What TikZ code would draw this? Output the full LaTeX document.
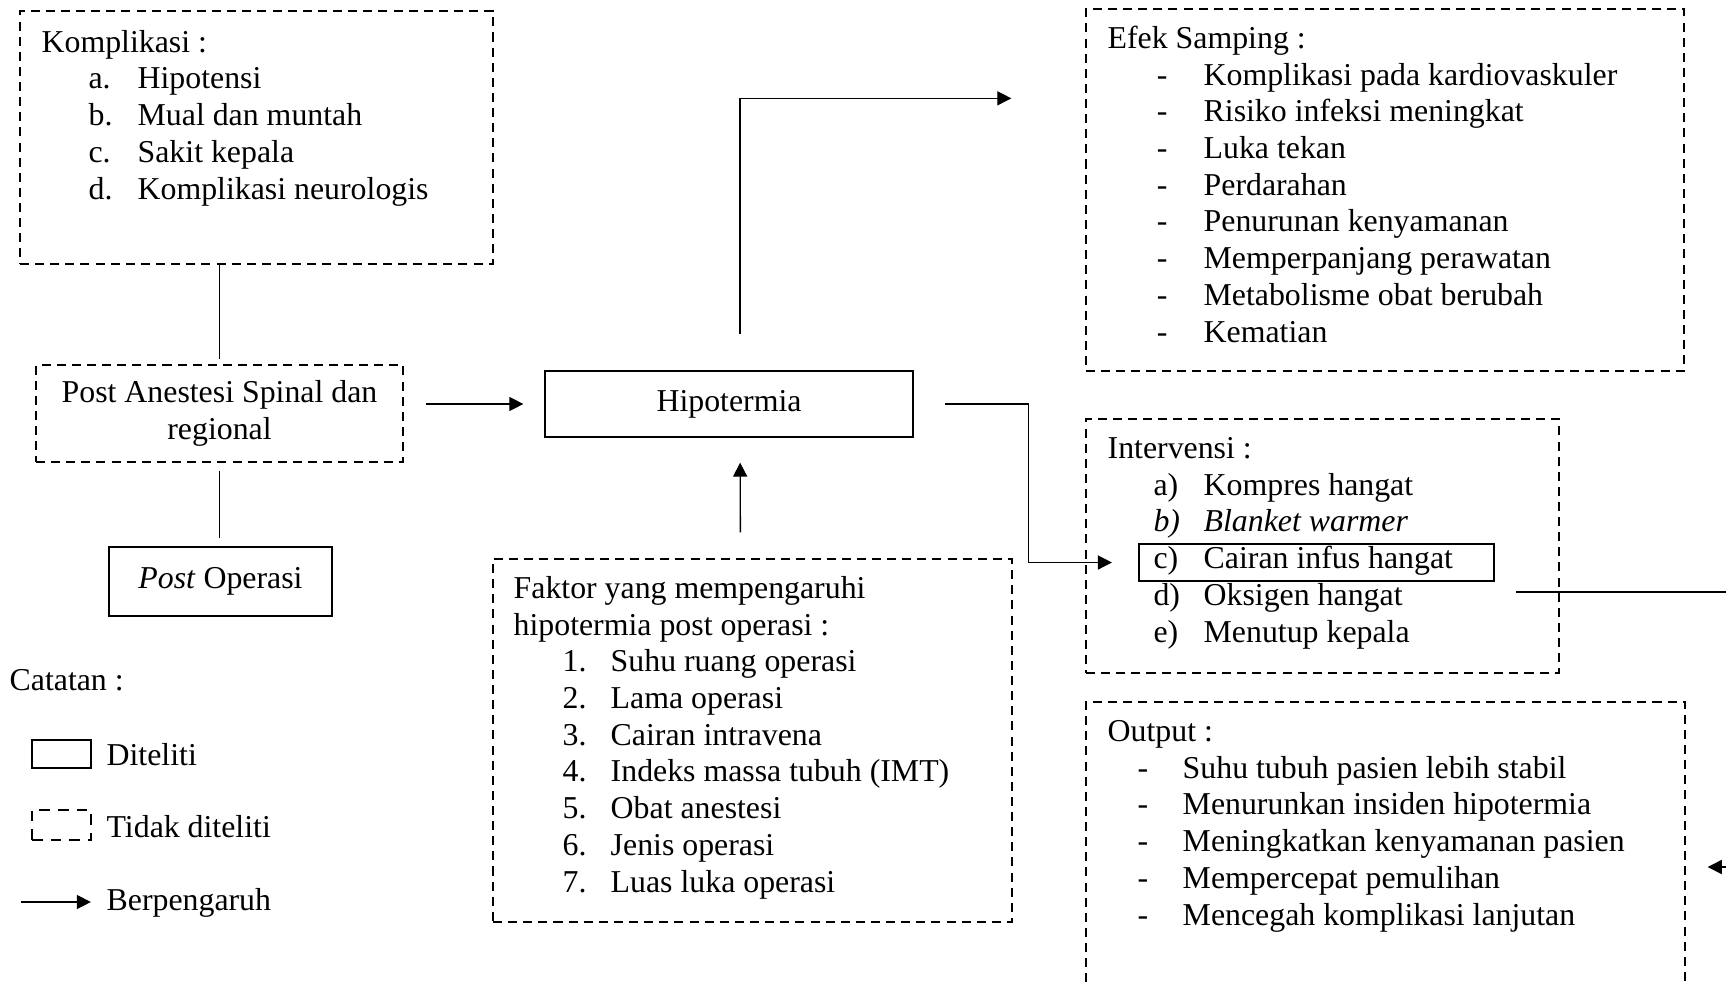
\documentclass[tikz,border=0pt]{standalone}
\usepackage{fontspec}
\setmainfont{Liberation Serif}
\usetikzlibrary{arrows.meta,calc,fit}
\newcommand{\itm}[3]{\hspace*{#1}\makebox[#2][l]{#3}}

\begin{document}
\begin{tikzpicture}[x=3.77pt, y=-3.77pt, line width=0.5pt,
  every node/.style={font=\fontsize{12}{13.84}\selectfont, inner sep=0pt},
  dbox/.style={draw, dash pattern=on 3.4pt off 2.3pt},
  sbox/.style={draw},
  txt/.style={anchor=base west, align=left},
  arr/.style={-{Triangle[length=5.3pt, width=5.3pt]}}]
			%%%%% FRAME %%%%%
			\clip (0, 0) rectangle (172.6, 98.5);
			
			%%%%% BOXES %%%%%
			\node[dbox, fit={(2.0, 1.1) (49.3, 26.4)}] (kom) {};
			\node[dbox, fit={(108.6, 0.9) (168.4, 37.1)}] (efek) {};
			\node[dbox, fit={(108.6, 41.9) (155.9, 67.3)}] (interv) {};
			\node[dbox, fit={(49.3, 55.9) (101.2, 92.2)}] (faktor) {};
			\node[dbox, fit={(108.6, 70.2) (168.5, 103.2)}] (output) {};
			
			\node[dbox, fit={(3.6, 36.5) (40.3, 46.2)}] (pas) {};
			\node[sbox, fit={(10.9, 54.7) (33.2, 61.6)}] (postop) {};
			\node[sbox, fit={(54.5, 37.1) (91.3, 43.7)}] (hipo) {};
			\node[sbox, line width=0.8pt, fit={(113.9, 54.4) (149.4, 58.1)}] (cairan) {};
			
			\node[align=center] (pastxt) at (pas) {Post Anestesi Spinal dan\\regional};
			\node (postoptxt) at (postop) {\textit{Post} Operasi};
			\node (hipotxt) at (hipo) {Hipotermia};
			
			%%%%% TEXTS (placed at the baseline of their last line) %%%%%
			\node[txt] (komtxt) at (4.1, 19.9) {Komplikasi :\\
				\itm{17.7pt}{18.5pt}{a.}Hipotensi\\
				\itm{17.7pt}{18.5pt}{b.}Mual dan muntah\\
				\itm{17.7pt}{18.5pt}{c.}Sakit kepala\\
				\itm{17.7pt}{18.5pt}{d.}Komplikasi neurologis};
			
			\node[txt] (efektxt) at (110.7, 34.2) {Efek Samping :\\
				\itm{18.5pt}{17.7pt}{-}Komplikasi pada kardiovaskuler\\
				\itm{18.5pt}{17.7pt}{-}Risiko infeksi meningkat\\
				\itm{18.5pt}{17.7pt}{-}Luka tekan\\
				\itm{18.5pt}{17.7pt}{-}Perdarahan\\
				\itm{18.5pt}{17.7pt}{-}Penurunan kenyamanan\\
				\itm{18.5pt}{17.7pt}{-}Memperpanjang perawatan\\
				\itm{18.5pt}{17.7pt}{-}Metabolisme obat berubah\\
				\itm{18.5pt}{17.7pt}{-}Kematian};
			
			\node[txt] (inttxt) at (110.7, 64.2) {Intervensi :\\
				\itm{17.3pt}{18.9pt}{a)}Kompres hangat\\
				\itm{17.3pt}{18.9pt}{\textit{b)}}\textit{Blanket warmer}\\
				\itm{17.3pt}{18.9pt}{c)}Cairan infus hangat\\
				\itm{17.3pt}{18.9pt}{d)}Oksigen hangat\\
				\itm{17.3pt}{18.9pt}{e)}Menutup kepala};
			
			\node[txt] (faktxt) at (51.3, 89.2) {Faktor yang mempengaruhi\\
				hipotermia post operasi :\\
				\itm{18.5pt}{18.1pt}{1.}Suhu ruang operasi\\
				\itm{18.5pt}{18.1pt}{2.}Lama operasi\\
				\itm{18.5pt}{18.1pt}{3.}Cairan intravena\\
				\itm{18.5pt}{18.1pt}{4.}Indeks massa tubuh (IMT)\\
				\itm{18.5pt}{18.1pt}{5.}Obat anestesi\\
				\itm{18.5pt}{18.1pt}{6.}Jenis operasi\\
				\itm{18.5pt}{18.1pt}{7.}Luas luka operasi};
			
			\node[txt] (outtxt) at (110.7, 92.5) {Output :\\
				\itm{11.3pt}{17.0pt}{-}Suhu tubuh pasien lebih stabil\\
				\itm{11.3pt}{17.0pt}{-}Menurunkan insiden hipotermia\\
				\itm{11.3pt}{17.0pt}{-}Meningkatkan kenyamanan pasien\\
				\itm{11.3pt}{17.0pt}{-}Mempercepat pemulihan\\
				\itm{11.3pt}{17.0pt}{-}Mencegah komplikasi lanjutan};
			
			%%%%% CONNECTORS %%%%%
			\draw[shorten >=1.9pt] (kom.south -| pas.north) -- (pas.north);
			\draw[shorten <=3pt, shorten >=3pt] (pas.south) -- (pas.south |- postop.north);
			\draw[arr, shorten <=8.3pt, shorten >=7.9pt] (pas.east |- hipo.west) -- (hipo.west);
			\draw[arr, shorten <=13.6pt, shorten >=27.9pt] ($(hipo.north)+(1.1, 0)$) |- ($(efek.north west)+(0, 9.0)$);
			\draw[arr, shorten <=9.8pt, shorten >=9.4pt] ($(faktor.north)+(-1.2, 0)$) -- ($(hipo.south)+(1.1, 0)$);
			\draw[arr, shorten <=11.7pt, shorten >=9.8pt] (hipo.east) -- ++(11.5, 0) |- (cairan.west);
			\draw[arr, shorten >=8.3pt] ($(cairan.south east)+(2.1, 1.0)$) -- ++(25, 0) |- (output.east);
			
			%%%%% LEGEND %%%%%
			\node[txt] (catatan) at (0.9, 69.0) {Catatan :};
			\node[sbox, line width=1.1pt, fit={(3.2, 74.0) (9.1, 76.8)}] (legsolid) {};
			\node[txt] (diteliti) at (10.6, 76.5) {Diteliti};
			\node[draw, line width=1.1pt, dash pattern=on 4pt off 3pt, fit={(3.2, 81.0) (9.1, 84.0)}] (legdash) {};
			\node[txt] (tidak) at (10.6, 83.7) {Tidak diteliti};
			\coordinate (legarr) at (2.1, 90.2);
			\node[txt] (berp) at (10.6, 91.0) {Berpengaruh};
			\draw[arr, shorten >=5.7pt] (legarr) -- (legarr -| berp.west);
			
\end{tikzpicture}
\end{document}
